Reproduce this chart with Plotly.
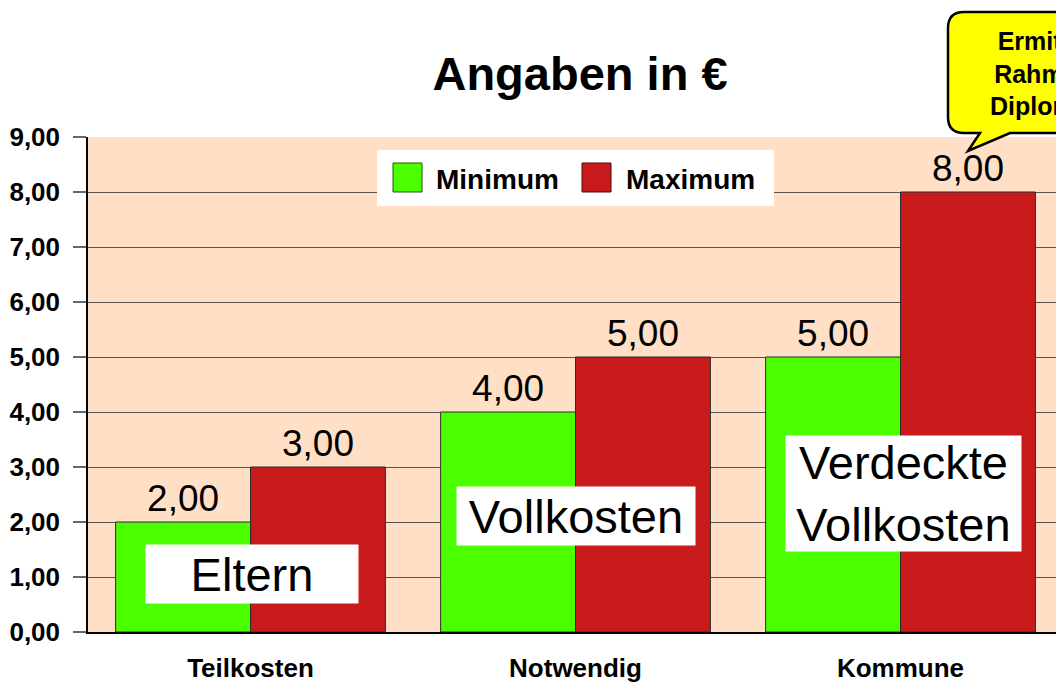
import plotly.graph_objects as go

categories = ["Teilkosten", "Notwendig", "Kommune"]
minimum = [2.0, 4.0, 5.0]
maximum = [3.0, 5.0, 8.0]
box_labels = ["Eltern", "Vollkosten", "Verdeckte<br>Vollkosten"]
box_label_y = [1.055, 2.11, 2.52]
title_text = "Angaben in €"
callout_text = "Ermittelt im<br>Rahmen der<br>Diplomarbeit"

W, H = 1056, 686
ML, MR, MT, MB = 88, 0, 137, 54
PW, PH = W - ML - MR, H - MT - MB

def px(x):
    return (x - ML) / PW

def py(y):
    return (H - MB - y) / PH

FONT = "Liberation Sans, Arial, sans-serif"
GREEN = "#4CFF00"
RED = "#C81A1A"
BG = "#FFE0C6"

fig = go.Figure()
fig.add_trace(go.Bar(
    name="Minimum", x=categories, y=minimum, marker=dict(color=GREEN, line=dict(color="#2a2a2a", width=1)),
    texttemplate="%{y:.2f}", textposition="outside", cliponaxis=False,
    textfont=dict(family=FONT, size=37, color="black"),
))
fig.add_trace(go.Bar(
    name="Maximum", x=categories, y=maximum, marker=dict(color=RED, line=dict(color="#2a2a2a", width=1)),
    texttemplate="%{y:.2f}", textposition="outside", cliponaxis=False,
    textfont=dict(family=FONT, size=37, color="black"),
))

shapes = []
annotations = []

# white label boxes on bars
box_sizes = [(212, 58), (238, 58), (235, 115)]
box_shift = [1, 0, 3]
for cat, txt, yv, (bw, bh), xs in zip(categories, box_labels, box_label_y, box_sizes, box_shift):
    annotations.append(dict(
        x=cat, y=yv, xref="x", yref="y", text=txt, showarrow=False,
        font=dict(family=FONT, size=47, color="black"), bgcolor="white",
        width=bw, height=bh, xshift=xs, borderpad=0,
    ))

# manual legend
shapes.append(dict(type="rect", xref="paper", yref="paper", x0=px(377), x1=px(774), y0=py(206), y1=py(150),
                   fillcolor="white", line=dict(width=0), layer="above"))
shapes.append(dict(type="rect", xref="paper", yref="paper", x0=px(393), x1=px(422), y0=py(192), y1=py(163),
                   fillcolor=GREEN, line=dict(color="#1f5a00", width=1), layer="above"))
shapes.append(dict(type="rect", xref="paper", yref="paper", x0=px(582), x1=px(611), y0=py(192), y1=py(163),
                   fillcolor=RED, line=dict(color="#4a0a0a", width=1), layer="above"))
for name, x0 in [("Minimum", 434), ("Maximum", 624)]:
    annotations.append(dict(x=px(x0), y=py(179), xref="paper", yref="paper", text=name, showarrow=False,
                            xanchor="left", yanchor="middle",
                            font=dict(family=FONT, size=28, color="black", weight="bold")))

# callout bubble
L, T, R, B, r = 948, 12, 1200, 133, 16
path = (f"M {px(L + r)},{py(T)} L {px(R)},{py(T)} L {px(R)},{py(B)} "
        f"L {px(1010)},{py(B)} L {px(968)},{py(151)} L {px(980)},{py(B)} "
        f"L {px(L + r)},{py(B)} Q {px(L)},{py(B)} {px(L)},{py(B - r)} "
        f"L {px(L)},{py(T + r)} Q {px(L)},{py(T)} {px(L + r)},{py(T)} Z")
shapes.append(dict(type="path", xref="paper", yref="paper", path=path, fillcolor="#FFFF00",
                   line=dict(color="black", width=2.5), layer="above"))
annotations.append(dict(x=px(1066), y=py(73), xref="paper", yref="paper", text=callout_text, showarrow=False,
                        xanchor="center", yanchor="middle", align="center",
                        font=dict(family=FONT, size=25, color="black", weight="bold")))

fig.update_layout(
    width=W, height=H, autosize=False,
    margin=dict(l=ML, r=MR, t=MT, b=MB, pad=0, autoexpand=False),
    paper_bgcolor="white", plot_bgcolor=BG,
    barmode="group", bargap=0.17, bargroupgap=0,
    separators=",.",
    showlegend=False,
    title=dict(text=title_text, x=580 / W, xanchor="center", y=1 - 74 / H, yanchor="middle",
               font=dict(family=FONT, size=47, color="black", weight="bold")),
    shapes=shapes, annotations=annotations,
)
fig.update_xaxes(
    type="category", categoryorder="array", categoryarray=categories,
    range=[-0.5, -0.5 + PW / 325.0], automargin=False,
    showline=True, linecolor="black", linewidth=2, ticks="", showgrid=False,
    tickfont=dict(family=FONT, size=26, color="black", weight="bold"), ticklabelstandoff=12,
)
fig.update_yaxes(
    range=[0, 9], dtick=1, tickformat=".2f", automargin=False,
    showgrid=True, gridcolor="#555555", gridwidth=1, zeroline=False,
    showline=True, linecolor="black", linewidth=1.5,
    ticks="outside", ticklen=13, tickcolor="#666666", tickwidth=1.5,
    tickfont=dict(family=FONT, size=26, color="black", weight="bold"), ticklabelstandoff=8,
)

fig.write_html(
    "out.html",
    config={"displayModeBar": False},
    post_script="document.body.style.margin='0px';document.body.style.overflow='hidden';",
)
